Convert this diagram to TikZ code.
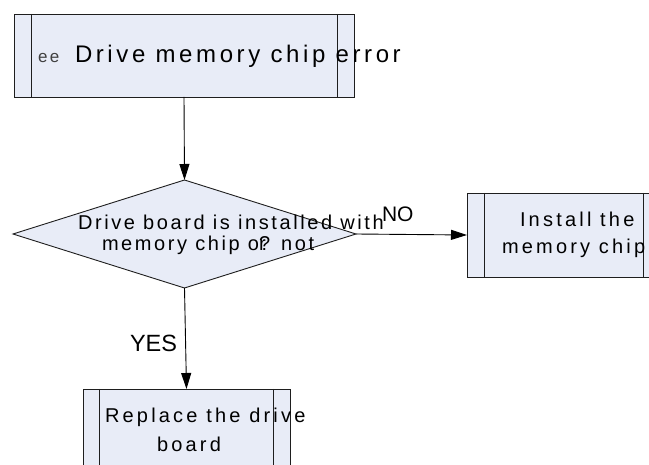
\documentclass[tikz,border=0pt]{standalone}
\usepackage{fontspec}
\setmainfont{Liberation Sans}
\newfontfamily\spA[LetterSpace=13]{Liberation Sans}
\newfontfamily\spT[LetterSpace=15]{Liberation Sans}
\newfontfamily\spB[LetterSpace=16]{Liberation Sans}
\newfontfamily\spC[LetterSpace=15]{Liberation Sans}
\usetikzlibrary{shapes.geometric,arrows.meta}
\definecolor{boxfill}{RGB}{232,236,247}
\definecolor{edgecol}{RGB}{30,30,30}
\tikzset{
  procbox/.style={draw=edgecol,line width=0.9pt,fill=boxfill,rectangle,inner sep=0pt,outer sep=0pt},
  decbox/.style={draw=edgecol,line width=0.9pt,fill=boxfill,diamond,inner sep=0pt,outer sep=0pt},
  inner/.style={draw=edgecol,line width=0.9pt},
  conn/.style={draw=black,line width=0.9pt,-{Triangle[length=16pt,width=10pt]}},
  txt/.style={anchor=base west,inner sep=0pt,outer sep=0pt,text=black},
}
\begin{document}
\begin{tikzpicture}[x=1pt,y=-1pt]
\useasboundingbox (0,0) rectangle (649,465);
\clip (0,0) rectangle (649,465);
\fill[white] (0,0) rectangle (649,465);
% boxes
\node[procbox,minimum width=340pt,minimum height=83pt] (top) at (184,55.5) {};
\node[decbox,minimum width=343pt,minimum height=108pt] (dia) at (184.5,234) {};
\node[procbox,minimum width=193pt,minimum height=84pt] (inst) at (563.5,235) {};
\node[procbox,minimum width=207pt,minimum height=84pt] (rep) at (186.5,431) {};
% inner vertical lines
\foreach \n/\d in {top/17,inst/17,rep/16.5}{
  \draw[inner] ([xshift=\d pt]\n.north west) -- ([xshift=\d pt]\n.south west);
  \draw[inner] ([xshift=-\d pt]\n.north east) -- ([xshift=-\d pt]\n.south east);
}
% connectors
\draw[conn] (top.south) -- (dia.north);
\draw[conn] (dia.east) -- (inst.west);
\draw[conn] (dia.south) -- (rep.north);
% texts
\node[txt,text=black!75] (t0) at (38,63) {\fontsize{17}{20}\selectfont\spC ee};
\node[txt] (t1) at (75,63) {\fontsize{24}{29}\selectfont\spT Drive memory chip error};
\node[txt] (d1) at (78,230) {\fontsize{20}{24}\selectfont\spA Drive board is installed with};
\node[txt] (d2) at (102,251) {\fontsize{20}{24}\selectfont\spA memory chip o\makebox[0pt][l]{r}? not};
\node[txt] (i1) at (520,227) {\fontsize{20}{24}\selectfont\spB Install the};
\node[txt] (i2) at (502,254) {\fontsize{20}{24}\selectfont\spB memory chip};
\node[txt] (r1) at (105,423) {\fontsize{20}{24}\selectfont\spB Replace the drive};
\node[txt] (r2) at (157,452) {\fontsize{20}{24}\selectfont\spB board};
\node[txt] (no) at (382,222) {\fontsize{21}{25}\selectfont NO};
\node[txt] (yes) at (130,352) {\fontsize{23.5}{28}\selectfont YES};
\end{tikzpicture}
\end{document}
